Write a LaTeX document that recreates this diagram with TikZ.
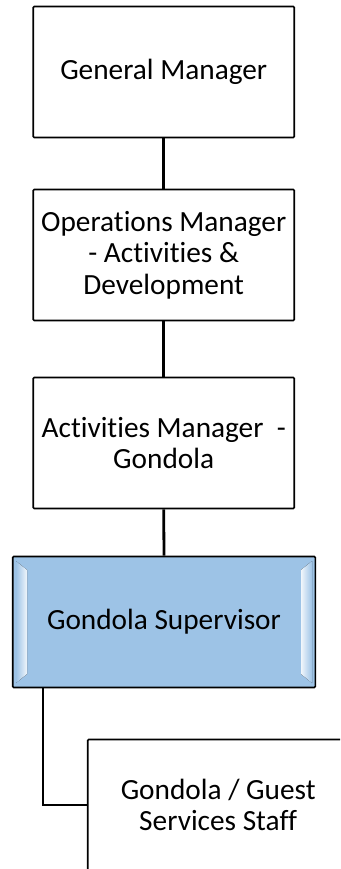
\documentclass[tikz,border=0pt]{standalone}
\usepackage{fontspec}
\setmainfont{Carlito}[Ligatures={NoCommon}]
\definecolor{supblue}{HTML}{9DC3E6}
\begin{document}
\begin{tikzpicture}[x=1pt,y=-1pt,
  box/.style={draw=black, line width=1.6pt, rounded corners=1pt, fill=white,
    minimum width=261pt, minimum height=131pt, align=center, inner sep=0pt,
    font=\fontsize{29.3}{31.7}\selectfont},
  link/.style={line width=2.8pt}]
\useasboundingbox (0,0) rectangle (340,869);
\clip (0,0) rectangle (340,869);
\node[box] (gm) at (163.7,72) {General Manager};
\node[box] (om) at (163.7,255) {Operations Manager\\- Activities \&\\Development};
\node[box] (am) at (163.7,443) {Activities Manager\ \ -\\Gondola};
\node[box, fill=supblue, minimum width=302.6pt] (gs) at (164,622) {};
\fill[left color=supblue, right color=white!85!supblue] (16,561) -- (27,570) -- (27,674) -- (16,683) -- cycle;
\fill[right color=supblue, left color=white!85!supblue] (312,561) -- (301,570) -- (301,674) -- (312,683) -- cycle;
\node[font=\fontsize{29.3}{31.7}\selectfont] (gst) at (gs.center) {Gondola Supervisor};
\node[box] (st) at (218.2,805) {Gondola / Guest\\Services Staff};
\draw[link] (gm.south) -- (om.north);
\draw[link] (om.south) -- (am.north);
\draw[link] (am.south) -- (gs.north);
\draw[link] ([xshift=31pt]gs.south west) |- (st.west);
\end{tikzpicture}
\end{document}
